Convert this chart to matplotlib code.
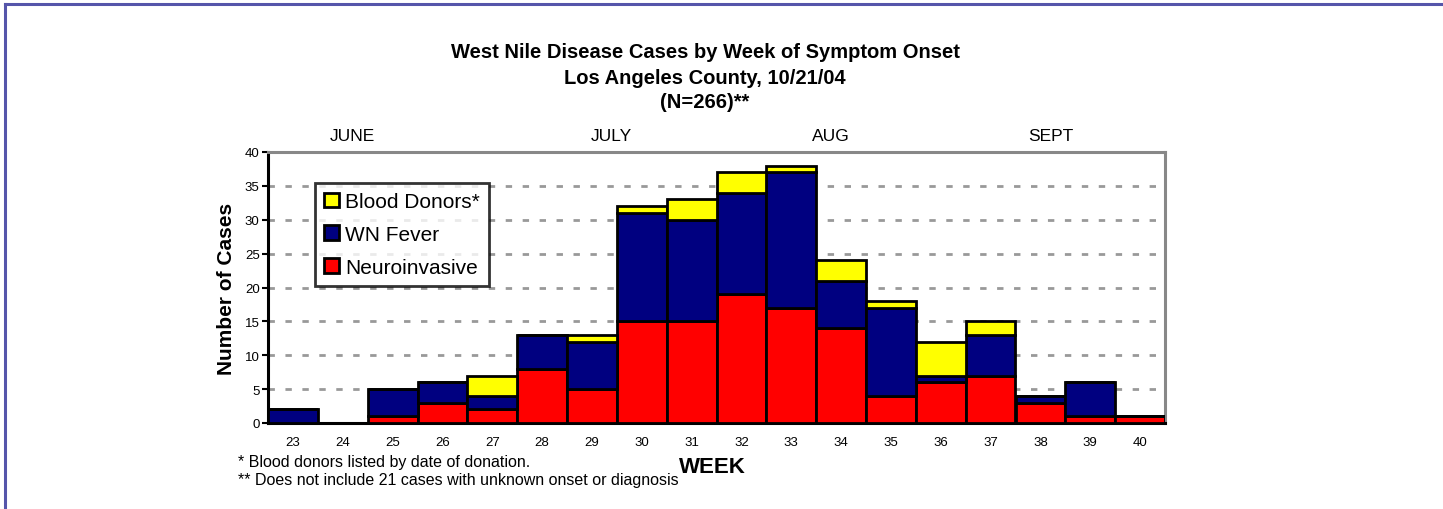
import numpy as np
import matplotlib.pyplot as plt

plt.rcParams['font.family'] = ['Liberation Sans', 'DejaVu Sans']

# weekly counts
weeks = [23, 24, 25, 26, 27, 28, 29, 30, 31, 32, 33, 34, 35, 36, 37, 38, 39, 40]
neuro = [0, 0, 1, 3, 2, 8, 5, 15, 15, 19, 17, 14, 4, 6, 7, 3, 1, 1]
fever = [2, 0, 4, 3, 2, 5, 7, 16, 15, 15, 20, 7, 13, 1, 6, 1, 5, 0]
donors = [0, 0, 0, 0, 3, 0, 1, 1, 3, 3, 1, 3, 1, 5, 2, 0, 0, 0]

months = ['JUNE', 'JULY', 'AUG', 'SEPT']
month_weeks = [24.2, 29.4, 33.8, 38.2]

W, H = 1443, 510
fig = plt.figure(figsize=(W / 100, H / 100), dpi=100)
ax = fig.add_axes([268 / W, 1 - 424 / H, 897 / W, 271 / H])

x = np.arange(len(weeks))
neuro = np.array(neuro)
fever = np.array(fever)
donors = np.array(donors)

kw = dict(width=1.0, edgecolor='black', linewidth=2.0, zorder=3)
ax.bar(x, neuro, color='#FF0000', label='Neuroinvasive', **kw)
ax.bar(x, fever, bottom=neuro, color='#000080', label='WN Fever', **kw)
ax.bar(x, donors, bottom=neuro + fever, color='#FFFF00', label='Blood Donors*', **kw)

ax.set_xlim(-0.5, len(weeks) - 0.5)
ax.set_ylim(0, 40)
ax.set_yticks(range(0, 41, 5))
ax.set_xticks(x)
ax.set_xticklabels(weeks, fontsize=9.5)
ax.tick_params(axis='y', labelsize=9.5, length=4, width=1.5, direction='out', pad=2)
ax.tick_params(axis='x', length=0, pad=9)

for y in range(5, 40, 5):
    ax.axhline(y, color='#999999', lw=2.0, ls=(0, (2.3, 3.8)), zorder=1)

ax.spines['left'].set_linewidth(2.2)
ax.spines['bottom'].set_linewidth(2.2)
for s in ('top', 'right'):
    ax.spines[s].set_color('#888888')
    ax.spines[s].set_linewidth(2.2)

ax.set_ylabel('Number of Cases', fontsize=15, fontweight='bold', labelpad=6)

for m, wk in zip(months, month_weeks):
    ax.text(wk - weeks[0], 41.3, m, ha='center', va='bottom', fontsize=12.5)

handles, labels = ax.get_legend_handles_labels()
leg = ax.legend(handles[::-1], labels[::-1], loc='upper left',
                bbox_to_anchor=(0.0524, 0.886), fontsize=15, frameon=True,
                fancybox=False, edgecolor='black', handlelength=0.68,
                handleheight=0.7, handletextpad=0.3, labelspacing=0.66,
                borderpad=0.45, borderaxespad=0)
leg.get_frame().set_linewidth(2.0)
leg.set_zorder(5)

cx = 705 / W
fig.text(cx, 1 - 52 / H, 'West Nile Disease Cases by Week of Symptom Onset',
         ha='center', va='center', fontsize=14.5, fontweight='bold')
fig.text(cx, 1 - 78 / H, 'Los Angeles County, 10/21/04',
         ha='center', va='center', fontsize=14.5, fontweight='bold')
fig.text(cx, 1 - 103 / H, '(N=266)**',
         ha='center', va='center', fontsize=14.5, fontweight='bold')

fig.text(238 / W, 1 - 463 / H, '* Blood donors listed by date of donation.',
         ha='left', va='center', fontsize=11.5)
fig.text(238 / W, 1 - 481 / H, '** Does not include 21 cases with unknown onset or diagnosis',
         ha='left', va='center', fontsize=11.5)
fig.text(712 / W, 1 - 468 / H, 'WEEK', ha='center', va='center',
         fontsize=16, fontweight='bold')

# slate blue frame on the top and left edges
fig.add_artist(plt.Line2D([4.5 / W, 4.5 / W], [0, 1 - 4.5 / H],
                          transform=fig.transFigure, color='#5555AA', lw=2.2))
fig.add_artist(plt.Line2D([4.5 / W, 1], [1 - 5 / H, 1 - 5 / H],
                          transform=fig.transFigure, color='#5555AA', lw=2.2))

fig.savefig('out.png', dpi=100)
